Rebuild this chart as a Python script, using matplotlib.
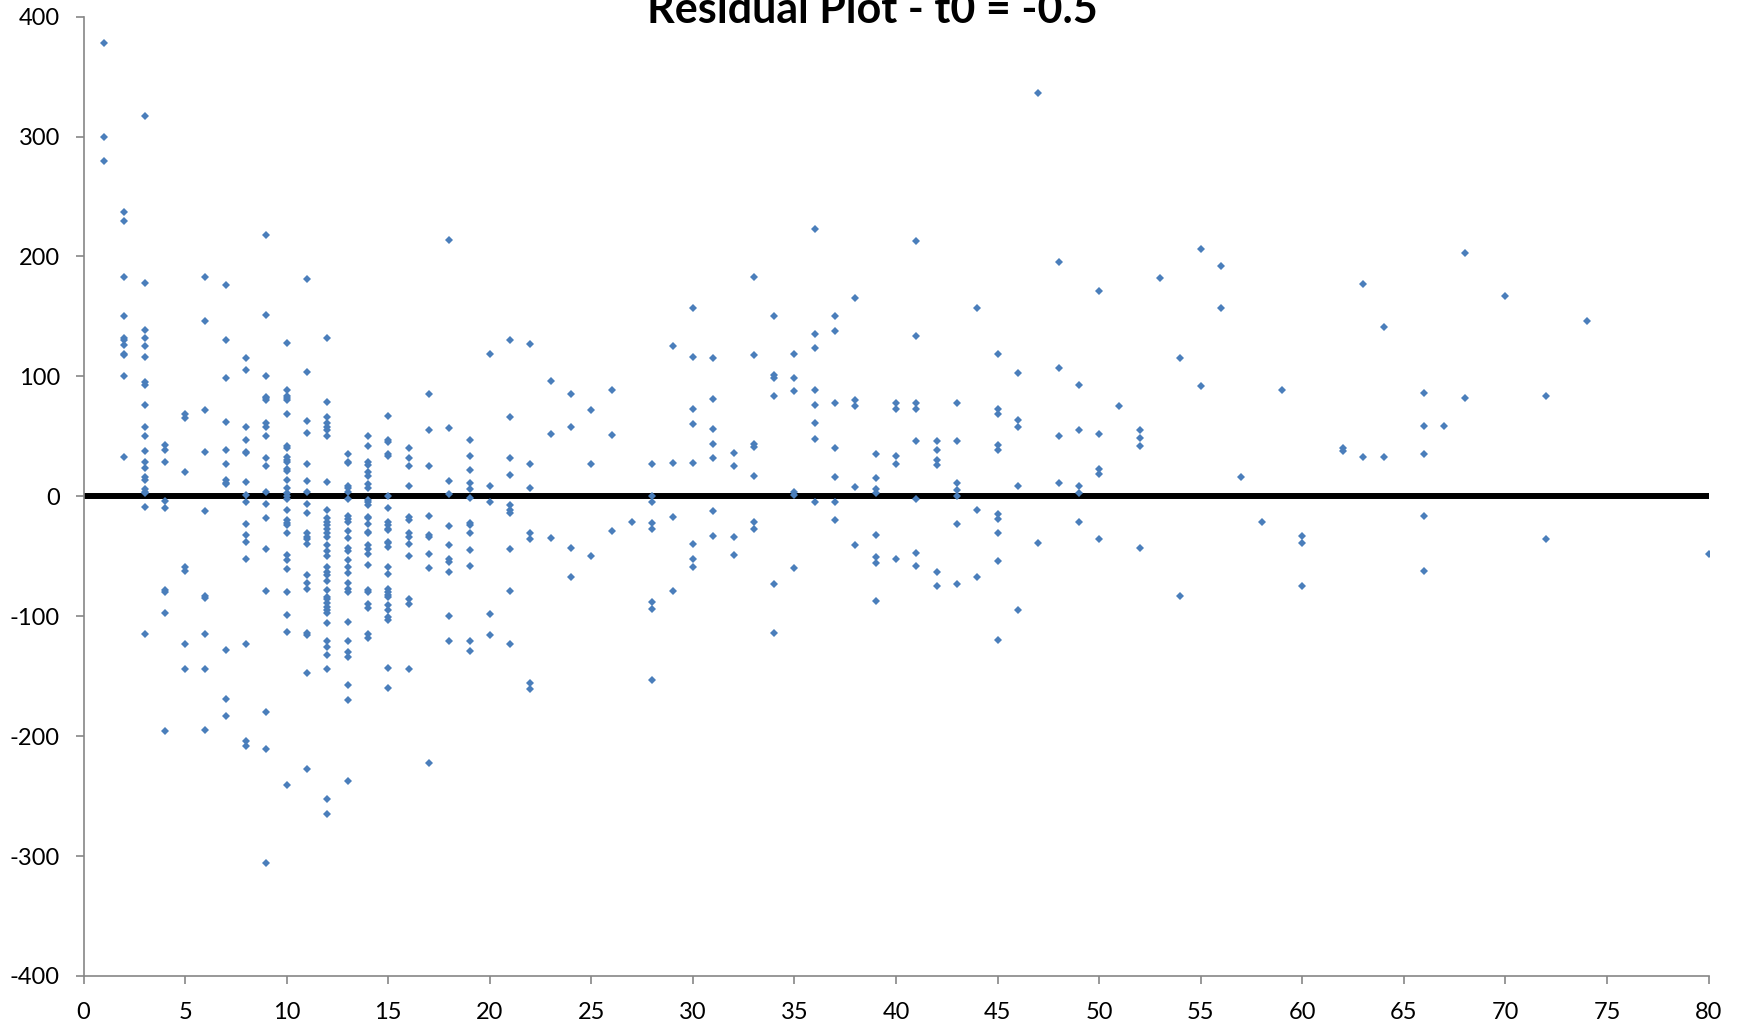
import matplotlib
matplotlib.use("Agg")
import matplotlib.pyplot as plt
import numpy as np

lags = [1, 2, 3, 4, 5, 6, 7, 8, 9, 10,
        11, 12, 13, 14, 15, 16, 17, 18, 19, 20,
        21, 22, 23, 24, 25, 26, 27, 28, 29, 30,
        31, 32, 33, 34, 35, 36, 37, 38, 39, 40,
        41, 42, 43, 44, 45, 46, 47, 48, 49, 50,
        51, 52, 53, 54, 55, 56, 57, 58, 59, 60,
        62, 63, 64, 66, 67, 68, 70, 72, 74, 80]

residuals = [
    [378, 300, 280],
    [237, 230, 183, 150, 132, 130, 126, 119, 118, 100, 33],
    [317, 178, 139, 132, 125, 116, 95, 93, 76, 58, 50, 38, 29, 24, 16, 14, 6, 4, 3, -9, -115],
    [43, 39, 29, -4, -10, -78, -80, -97, -196],
    [69, 65, 20, -59, -62, -123, -144],
    [183, 146, 72, 37, -12, -83, -85, -115, -144, -195],
    [176, 130, 99, 62, 39, 27, 14, 11, 10, -128, -169, -183],
    [115, 105, 58, 47, 37, 36, 12, 1, -5, -23, -32, -38, -52, -123, -204, -208],
    [218, 151, 100, 83, 82, 80, 61, 58, 50, 32, 25, 4, -6, -18, -44, -79, -180, -211, -306],
    [128, 89, 84, 82, 80, 69, 42, 40, 33, 30, 29, 23, 21, 14, 7, 3, 0, -2, -11, -20, -22, -24,
     -31, -49, -53, -61, -80, -99, -113, -241],
    [181, 104, 63, 53, 27, 13, 4, -6, -14, -31, -34, -36, -40, -66, -72, -77, -114, -116, -147, -227],
    [132, 79, 66, 61, 58, 55, 50, 12, -11, -18, -21, -24, -27, -31, -34, -41, -46, -50, -59, -63,
     -66, -71, -78, -84, -86, -89, -92, -95, -97, -106, -121, -126, -132, -144, -252, -265],
    [35, 29, 28, 9, 7, 4, -2, -16, -19, -21, -29, -35, -43, -46, -53, -59, -64, -72, -77, -80,
     -105, -121, -130, -134, -157, -170, -237],
    [50, 42, 29, 26, 20, 17, 10, 7, -3, -5, -7, -17, -18, -23, -30, -31, -41, -44, -48, -57,
     -78, -80, -90, -93, -115, -118],
    [67, 47, 45, 35, 34, 0, -10, -21, -24, -27, -28, -38, -39, -42, -59, -65, -77, -80, -82, -84,
     -91, -95, -101, -103, -143, -160],
    [40, 32, 25, 9, -17, -20, -31, -34, -40, -50, -86, -90, -144],
    [85, 55, 25, -16, -32, -34, -48, -60, -222],
    [214, 57, 13, 2, -25, -41, -52, -55, -63, -100, -121],
    [47, 34, 22, 11, 6, -1, -22, -24, -31, -45, -58, -121, -129],
    [119, 9, -5, -98, -116],
    [130, 66, 32, 18, -7, -11, -14, -44, -79, -123],
    [127, 27, 7, -31, -36, -156, -161],
    [96, 52, -35],
    [85, 58, -43, -67],
    [72, 27, -50],
    [89, 51, -29],
    [-21],
    [27, 0, -5, -22, -27, -88, -94, -153],
    [125, 28, -17, -79],
    [157, 116, 73, 60, 28, -40, -52, -59],
    [115, 81, 56, 44, 32, -12, -33],
    [36, 25, -34, -49],
    [183, 118, 44, 41, 17, -21, -27],
    [150, 101, 99, 84, -73, -114],
    [119, 99, 88, 4, 1, -60],
    [223, 135, 124, 89, 76, 61, 48, -5],
    [150, 138, 78, 40, 16, -5, -20],
    [165, 80, 75, 8, -41],
    [35, 15, 6, 3, -32, -51, -56, -87],
    [78, 73, 34, 27, -52],
    [213, 134, 78, 73, 46, -2, -47, -58],
    [46, 39, 30, 26, -63, -75],
    [78, 46, 11, 5, 0, -23, -73],
    [157, -11, -67],
    [119, 73, 69, 43, 39, -15, -19, -31, -54, -120],
    [103, 64, 58, 9, -95],
    [336, -39],
    [195, 107, 50, 11],
    [93, 55, 9, 3, -21],
    [171, 52, 23, 19, -36],
    [75],
    [55, 49, 42, -43],
    [182],
    [115, -83],
    [206, 92],
    [192, 157],
    [16],
    [-21],
    [89],
    [-33, -39, -75],
    [40, 38],
    [177, 33],
    [141, 33],
    [86, 59, 35, -16, -62],
    [59],
    [203, 82],
    [167],
    [84, -36],
    [146],
    [-48],
]

title = "Residual Plot - t0 = -0.5"

x = np.concatenate([[lag] * len(r) for lag, r in zip(lags, residuals)])
y = np.concatenate(residuals)

plt.rcParams["font.family"] = ["Lato", "DejaVu Sans"]
plt.rcParams["axes.unicode_minus"] = False

fig = plt.figure(figsize=(17.45, 10.28), dpi=100)
ax = fig.add_axes([0.0479, 0.0506, 0.9312, 0.9332])

ax.axhline(0, color="black", linewidth=4.3, zorder=1)
ax.plot(x, y, linestyle="none", marker="D", markersize=4.3,
        markeredgewidth=0, color="#4a7ebb", zorder=3)

ax.set_xlim(0, 80)
ax.set_ylim(-400, 400)
ax.set_xticks(np.arange(0, 81, 5))
ax.set_yticks(np.arange(-400, 401, 100))

for side in ["top", "right"]:
    ax.spines[side].set_visible(False)
for side in ["left", "bottom"]:
    ax.spines[side].set_color("#868686")
    ax.spines[side].set_linewidth(1.2)

ax.tick_params(axis="both", direction="out", length=6, width=1.2,
               color="#868686", labelsize=17, labelcolor="black")
ax.tick_params(axis="x", pad=13)
ax.tick_params(axis="y", pad=11)

# the title sits partly above the figure edge, as in the original
fig.text(0.5, 0.9776, title, ha="center", va="baseline",
         fontsize=31, fontweight="bold")

fig.savefig("out.png", dpi=100)
